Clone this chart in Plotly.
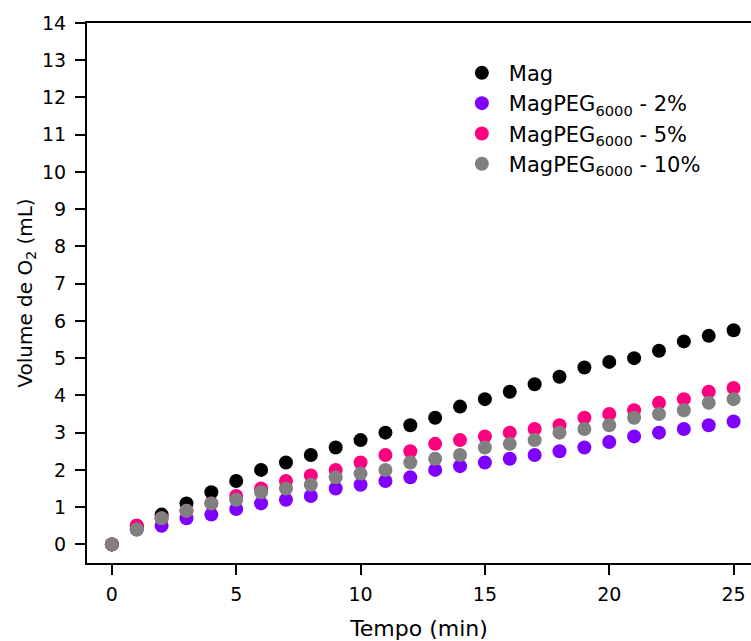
import plotly.graph_objects as go

tempo = list(range(0, 26))
mag = [0, 0.5, 0.8, 1.1, 1.4, 1.7, 2.0, 2.2, 2.4, 2.6, 2.8, 3.0, 3.2, 3.4, 3.7, 3.9,
       4.1, 4.3, 4.5, 4.75, 4.9, 5.0, 5.2, 5.45, 5.6, 5.75]
peg2 = [0, 0.4, 0.5, 0.7, 0.8, 0.95, 1.1, 1.2, 1.3, 1.5, 1.6, 1.7, 1.8, 2.0, 2.1, 2.2,
        2.3, 2.4, 2.5, 2.6, 2.75, 2.9, 3.0, 3.1, 3.2, 3.3]
peg5 = [0, 0.5, 0.7, 0.9, 1.1, 1.3, 1.5, 1.7, 1.85, 2.0, 2.2, 2.4, 2.5, 2.7, 2.8, 2.9,
        3.0, 3.1, 3.2, 3.4, 3.5, 3.6, 3.8, 3.9, 4.1, 4.2]
peg10 = [0, 0.4, 0.7, 0.9, 1.1, 1.2, 1.4, 1.5, 1.6, 1.8, 1.9, 2.0, 2.2, 2.3, 2.4, 2.6,
         2.7, 2.8, 3.0, 3.1, 3.2, 3.4, 3.5, 3.6, 3.8, 3.9]

names = ["Mag", "MagPEG<sub>6000</sub> - 2%", "MagPEG<sub>6000</sub> - 5%", "MagPEG<sub>6000</sub> - 10%"]
series = [mag, peg2, peg5, peg10]
colors = ["#000000", "#8000FF", "#FF0080", "#808080"]

FONT = "DejaVu Sans"

fig = go.Figure()
for n, s, c in zip(names, series, colors):
    fig.add_trace(go.Scatter(x=tempo, y=s, mode="markers", name=n,
                             marker=dict(color=c, size=14, line=dict(width=0))))

fig.update_layout(
    width=751, height=641,
    margin=dict(l=87, r=0, t=23, b=78),
    plot_bgcolor="white", paper_bgcolor="white",
    font=dict(family=FONT, color="black", size=19),
    showlegend=True,
    legend=dict(x=0.554, y=0.945, xanchor="left", yanchor="top",
                font=dict(family=FONT, size=21, color="black"),
                bgcolor="rgba(0,0,0,0)", itemwidth=44),
)
fig.update_xaxes(range=[-1, 25.7], tickvals=[0, 5, 10, 15, 20, 25],
                 ticks="outside", ticklen=10, tickwidth=2, tickcolor="black",
                 showline=True, linewidth=2, linecolor="black", mirror=True,
                 showgrid=False, zeroline=False, ticklabelstandoff=3,
                 tickfont=dict(family=FONT, size=19),
                 title=dict(text="Tempo (min)", font=dict(family=FONT, size=22), standoff=18))
fig.update_yaxes(range=[-0.5, 14], dtick=1, tick0=0,
                 ticks="outside", ticklen=10, tickwidth=2, tickcolor="black",
                 showline=True, linewidth=2, linecolor="black",
                 showgrid=False, zeroline=False, ticklabelstandoff=5,
                 tickfont=dict(family=FONT, size=19),
                 title=dict(text="Volume de O<sub>2</sub> (mL)", font=dict(family=FONT, size=20), standoff=4))

fig.write_html("out.html")
